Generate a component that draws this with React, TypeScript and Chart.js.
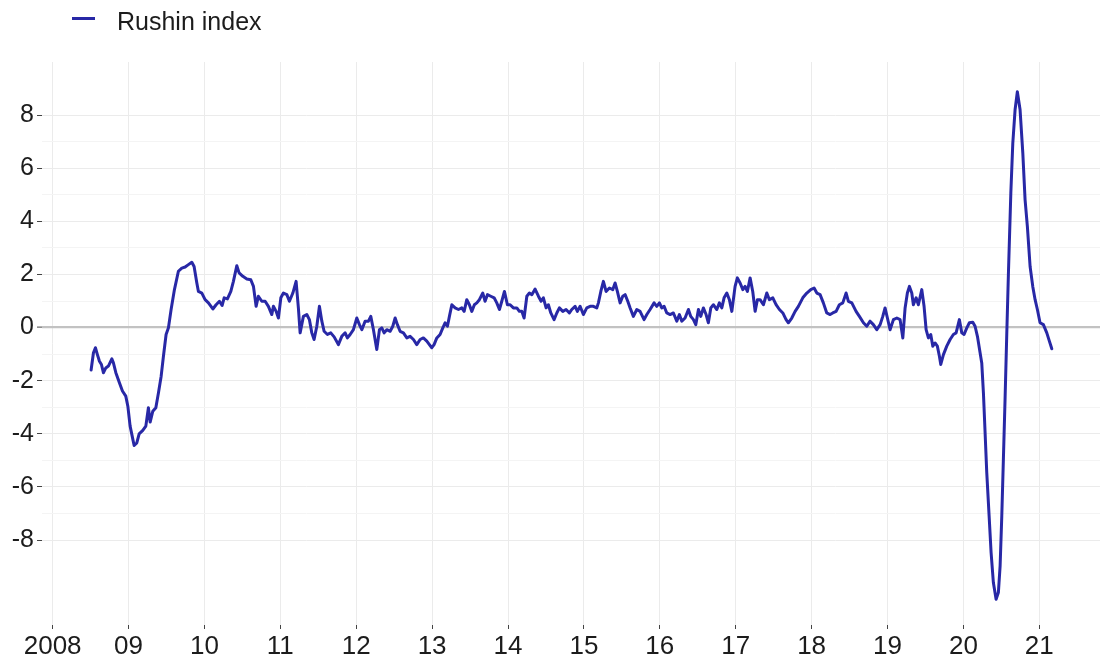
import React, { useEffect, useRef } from "react";
import { Chart, registerables } from "chart.js";

Chart.register(...registerables);

// Weekly-ish readings of the Rushin index (decimal year, value)
const years = [
  2008.507, 2008.538, 2008.564, 2008.590, 2008.617, 2008.643, 2008.669, 2008.701, 2008.735, 2008.780,
  2008.801, 2008.833, 2008.880, 2008.920, 2008.964, 2008.991, 2009.021, 2009.057, 2009.074, 2009.109,
  2009.140, 2009.188, 2009.228, 2009.262, 2009.285, 2009.320, 2009.360, 2009.394, 2009.430, 2009.460,
  2009.495, 2009.526, 2009.561, 2009.605, 2009.657, 2009.702, 2009.746, 2009.789, 2009.834, 2009.864,
  2009.900, 2009.921, 2009.966, 2010.009, 2010.053, 2010.111, 2010.154, 2010.198, 2010.233, 2010.260,
  2010.303, 2010.348, 2010.382, 2010.427, 2010.457, 2010.506, 2010.559, 2010.611, 2010.646, 2010.681,
  2010.711, 2010.756, 2010.800, 2010.843, 2010.888, 2010.909, 2010.945, 2010.975, 2011.007, 2011.041,
  2011.086, 2011.120, 2011.165, 2011.208, 2011.238, 2011.261, 2011.304, 2011.349, 2011.383, 2011.415,
  2011.445, 2011.481, 2011.515, 2011.547, 2011.577, 2011.621, 2011.665, 2011.709, 2011.765, 2011.810,
  2011.854, 2011.884, 2011.920, 2011.963, 2012.008, 2012.042, 2012.074, 2012.117, 2012.161, 2012.192,
  2012.227, 2012.271, 2012.306, 2012.337, 2012.368, 2012.403, 2012.447, 2012.482, 2012.513, 2012.543,
  2012.578, 2012.622, 2012.667, 2012.710, 2012.754, 2012.798, 2012.842, 2012.885, 2012.930, 2012.964,
  2012.996, 2013.026, 2013.062, 2013.105, 2013.141, 2013.171, 2013.202, 2013.228, 2013.260, 2013.303,
  2013.347, 2013.391, 2013.422, 2013.457, 2013.491, 2013.523, 2013.557, 2013.589, 2013.623, 2013.668,
  2013.698, 2013.729, 2013.773, 2013.817, 2013.852, 2013.887, 2013.918, 2013.953, 2013.992, 2014.028,
  2014.071, 2014.116, 2014.150, 2014.182, 2014.212, 2014.248, 2014.282, 2014.314, 2014.357, 2014.401,
  2014.436, 2014.466, 2014.502, 2014.532, 2014.564, 2014.607, 2014.643, 2014.677, 2014.722, 2014.765,
  2014.809, 2014.840, 2014.884, 2014.914, 2014.950, 2014.993, 2015.038, 2015.082, 2015.125, 2015.170,
  2015.191, 2015.223, 2015.257, 2015.292, 2015.336, 2015.381, 2015.411, 2015.441, 2015.477, 2015.512,
  2015.543, 2015.578, 2015.609, 2015.652, 2015.697, 2015.740, 2015.793, 2015.829, 2015.872, 2015.925,
  2015.960, 2015.995, 2016.026, 2016.057, 2016.092, 2016.136, 2016.179, 2016.224, 2016.258, 2016.290,
  2016.333, 2016.377, 2016.408, 2016.443, 2016.474, 2016.509, 2016.540, 2016.574, 2016.610, 2016.640,
  2016.672, 2016.706, 2016.751, 2016.785, 2016.817, 2016.847, 2016.883, 2016.917, 2016.949, 2016.992,
  2017.022, 2017.058, 2017.094, 2017.124, 2017.154, 2017.190, 2017.225, 2017.256, 2017.286, 2017.321,
  2017.365, 2017.410, 2017.444, 2017.489, 2017.532, 2017.576, 2017.621, 2017.664, 2017.694, 2017.739,
  2017.783, 2017.826, 2017.884, 2017.937, 2017.989, 2018.033, 2018.069, 2018.112, 2018.155, 2018.200,
  2018.244, 2018.279, 2018.323, 2018.366, 2018.411, 2018.455, 2018.485, 2018.530, 2018.586, 2018.630,
  2018.683, 2018.727, 2018.771, 2018.814, 2018.859, 2018.903, 2018.938, 2018.968, 2018.999, 2019.034,
  2019.078, 2019.123, 2019.166, 2019.202, 2019.232, 2019.262, 2019.289, 2019.320, 2019.341, 2019.377,
  2019.407, 2019.452, 2019.482, 2019.509, 2019.539, 2019.570, 2019.597, 2019.627, 2019.657, 2019.684,
  2019.702, 2019.737, 2019.781, 2019.825, 2019.868, 2019.904, 2019.947, 2019.979, 2020.009, 2020.045,
  2020.079, 2020.124, 2020.154, 2020.185, 2020.220, 2020.242, 2020.264, 2020.286, 2020.308, 2020.339,
  2020.365, 2020.395, 2020.431, 2020.461, 2020.484, 2020.506, 2020.527, 2020.549, 2020.572, 2020.593,
  2020.625, 2020.651, 2020.681, 2020.711, 2020.747, 2020.783, 2020.813, 2020.843, 2020.879, 2020.914,
  2020.945, 2020.975, 2021.010, 2021.054, 2021.099, 2021.133, 2021.165,
];

const rushinIndex = [
  -1.60, -0.95, -0.76, -1.02, -1.27, -1.39, -1.70, -1.52, -1.45, -1.18,
  -1.33, -1.70, -2.08, -2.39, -2.58, -2.96, -3.71, -4.21, -4.44, -4.34,
  -4.00, -3.87, -3.71, -3.02, -3.56, -3.15, -3.02, -2.46, -1.83, -1.08,
  -0.26, -0.01, 0.68, 1.43, 2.12, 2.24, 2.28, 2.37, 2.46, 2.30,
  1.68, 1.36, 1.30, 1.05, 0.93, 0.70, 0.86, 0.99, 0.83, 1.12,
  1.08, 1.36, 1.74, 2.33, 2.06, 1.93, 1.83, 1.80, 1.55, 0.80,
  1.18, 0.99, 0.99, 0.80, 0.49, 0.80, 0.61, 0.36, 1.12, 1.30,
  1.24, 0.99, 1.30, 1.74, 0.74, -0.20, 0.42, 0.49, 0.30, -0.20,
  -0.45, 0.05, 0.80, 0.24, -0.14, -0.26, -0.20, -0.35, -0.64, -0.33,
  -0.20, -0.39, -0.26, -0.08, 0.36, 0.11, -0.08, 0.24, 0.24, 0.42,
  -0.08, -0.83, -0.08, -0.01, -0.20, -0.08, -0.14, 0.05, 0.36, 0.11,
  -0.14, -0.20, -0.39, -0.33, -0.45, -0.64, -0.45, -0.39, -0.51, -0.64,
  -0.76, -0.64, -0.39, -0.26, -0.01, 0.18, 0.05, 0.42, 0.86, 0.74,
  0.68, 0.74, 0.61, 1.05, 0.86, 0.61, 0.86, 0.93, 1.05, 1.30,
  0.99, 1.24, 1.18, 1.12, 0.93, 0.68, 0.99, 1.36, 0.86, 0.86,
  0.74, 0.74, 0.61, 0.61, 0.36, 1.18, 1.30, 1.24, 1.45, 1.18,
  0.99, 1.12, 0.74, 0.86, 0.55, 0.30, 0.55, 0.74, 0.61, 0.68,
  0.55, 0.68, 0.80, 0.61, 0.80, 0.49, 0.74, 0.80, 0.80, 0.74,
  0.93, 1.36, 1.74, 1.36, 1.49, 1.43, 1.68, 1.36, 0.93, 1.18,
  1.24, 0.99, 0.74, 0.42, 0.68, 0.61, 0.30, 0.49, 0.68, 0.93,
  0.80, 0.93, 0.74, 0.80, 0.55, 0.49, 0.55, 0.24, 0.49, 0.24,
  0.36, 0.68, 0.42, 0.30, 0.11, 0.68, 0.42, 0.74, 0.49, 0.18,
  0.74, 0.86, 0.68, 0.93, 0.74, 1.12, 1.30, 1.05, 0.61, 1.55,
  1.87, 1.68, 1.43, 1.55, 1.36, 1.87, 1.35, 0.61, 1.05, 1.05,
  0.86, 1.30, 1.05, 1.12, 0.86, 0.68, 0.55, 0.30, 0.18, 0.36,
  0.61, 0.80, 1.12, 1.30, 1.43, 1.49, 1.30, 1.24, 0.93, 0.55,
  0.49, 0.55, 0.61, 0.86, 0.93, 1.30, 0.99, 0.93, 0.61, 0.42,
  0.18, 0.05, 0.24, 0.11, -0.08, 0.11, 0.42, 0.74, 0.36, -0.08,
  0.30, 0.36, 0.30, -0.39, 0.74, 1.30, 1.55, 1.30, 0.86, 1.12,
  0.86, 1.43, 0.80, -0.08, -0.39, -0.26, -0.70, -0.58, -0.70, -1.08,
  -1.39, -1.02, -0.70, -0.45, -0.26, -0.20, 0.30, -0.20, -0.26, -0.01,
  0.18, 0.20, 0.05, -0.33, -0.95, -1.33, -2.46, -3.96, -5.46, -7.09,
  -8.47, -9.60, -10.23, -9.98, -8.97, -7.09, -4.96, -2.71, -0.20, 2.00,
  5.06, 6.94, 8.20, 8.88, 8.20, 6.57, 4.81, 3.81, 2.30, 1.55,
  1.05, 0.68, 0.18, 0.11, -0.20, -0.51, -0.80,
];

const xTickYears = [2008, 2009, 2010, 2011, 2012, 2013, 2014, 2015, 2016, 2017, 2018, 2019, 2020, 2021];
const xTickLabels = ["2008", "09", "10", "11", "12", "13", "14", "15", "16", "17", "18", "19", "20", "21"];
const yMajorTicks = [-8, -6, -4, -2, 0, 2, 4, 6, 8];
const yMinorTicks = [-7, -5, -3, -1, 1, 3, 5, 7];

const SERIES_LABEL = "Rushin index";
const LINE_COLOR = "#2828a6";
const FONT_FAMILY = "'Liberation Sans', Arial, sans-serif";
const TEXT_COLOR = "#1c1c1c";

export default function App() {
  const canvasRef = useRef<HTMLCanvasElement | null>(null);

  useEffect(() => {
    const canvas = canvasRef.current;
    if (!canvas) return;
    const allY = [...yMajorTicks, ...yMinorTicks].sort((a, b) => a - b);
    const chart = new Chart(canvas, {
      type: "line",
      data: {
        datasets: [
          {
            label: SERIES_LABEL,
            data: years.map((x, i) => ({ x, y: rushinIndex[i] })),
            borderColor: LINE_COLOR,
            backgroundColor: LINE_COLOR,
            borderWidth: 3,
            pointRadius: 0,
            tension: 0,
            fill: false,
            borderJoinStyle: "round",
            borderCapStyle: "round",
          },
        ],
      },
      options: {
        responsive: false,
        animation: false,
        devicePixelRatio: 1,
        layout: { padding: { top: 62, left: 0, right: 0, bottom: 0 } },
        plugins: {
          legend: { display: false },
          tooltip: { enabled: false },
        },
        scales: {
          x: {
            type: "linear",
            min: 2007.86,
            max: 2021.8,
            afterBuildTicks: (scale: any) => {
              scale.ticks = xTickYears.map((v) => ({ value: v }));
            },
            afterFit: (scale: any) => {
              scale.height = 36;
            },
            border: { display: false },
            grid: {
              color: "#ebebeb",
              lineWidth: 1,
              drawTicks: true,
              tickLength: 4,
              tickWidth: 1,
              tickColor: "#444444",
            },
            ticks: {
              autoSkip: false,
              maxRotation: 0,
              padding: 2,
              color: TEXT_COLOR,
              font: { family: FONT_FAMILY, size: 26 },
              callback: (v: any) => {
                const i = xTickYears.indexOf(Number(v));
                return i >= 0 ? xTickLabels[i] : "";
              },
            },
          },
          y: {
            type: "linear",
            min: -11.2,
            max: 10,
            afterBuildTicks: (scale: any) => {
              scale.ticks = allY.map((v) => ({ value: v }));
            },
            afterFit: (scale: any) => {
              scale.width = 42;
            },
            border: { display: false },
            grid: {
              color: (ctx: any) => {
                const v = ctx.tick ? ctx.tick.value : 1;
                if (v === 0) return "#c2c2c2";
                return yMajorTicks.includes(v) ? "#ebebeb" : "#f4f4f4";
              },
              lineWidth: (ctx: any) => (ctx.tick && ctx.tick.value === 0 ? 2.2 : 1),
              drawTicks: true,
              tickLength: 5,
              tickWidth: 1,
              tickColor: (ctx: any) =>
                ctx.tick && yMajorTicks.includes(ctx.tick.value) ? "#444444" : "rgba(0,0,0,0)",
            },
            ticks: {
              autoSkip: false,
              padding: 3,
              color: TEXT_COLOR,
              font: { family: FONT_FAMILY, size: 25 },
              callback: (v: any) => (yMajorTicks.includes(Number(v)) ? String(v) : ""),
            },
          },
        },
      },
    });
    return () => chart.destroy();
  }, []);

  return (
    <div
      style={{
        position: "absolute",
        left: 0,
        top: 0,
        width: 1100,
        height: 661,
        background: "#ffffff",
        overflow: "hidden",
      }}
    >
      <canvas ref={canvasRef} width={1100} height={661} style={{ display: "block" }} />
      <div
        style={{
          position: "absolute",
          left: 72,
          top: 17,
          width: 23,
          height: 3,
          background: LINE_COLOR,
        }}
      />
      <div
        style={{
          position: "absolute",
          left: 117,
          top: 9,
          fontFamily: FONT_FAMILY,
          fontSize: 25,
          lineHeight: "25px",
          color: TEXT_COLOR,
          whiteSpace: "nowrap",
        }}
      >
        {SERIES_LABEL}
      </div>
    </div>
  );
}
